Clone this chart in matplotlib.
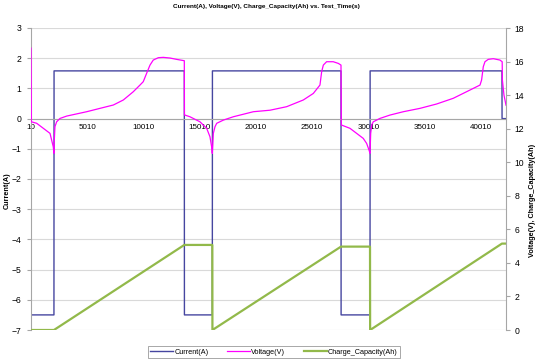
import matplotlib.pyplot as plt

plt.rcParams['font.family'] = ['Liberation Sans', 'DejaVu Sans']

# Current(A) step profile vs test time (s)
cur_t = [10, 20, 2050, 2060, 13640, 13650, 16130, 16140, 27570, 27580,
         30150, 30160, 41880, 41890, 42240]
cur_a = [0, -6.5, -6.5, 1.58, 1.58, -6.5, -6.5, 1.58, 1.58, -6.5,
         -6.5, 1.58, 1.58, 0, 0]

# Voltage(V) vs test time (s)
volt_t = [10, 40, 517, 1700, 1990, 2050, 2080, 2140, 2290, 2590, 3180, 4960,
          6140, 7330, 8220, 9100, 9700, 9990, 10290, 10590, 10880, 11330,
          11770, 12370, 12960, 13640, 13650, 13700, 14140, 15030, 15630,
          15920, 16070, 16130, 16220, 16370, 16520, 17110, 18000, 19780,
          21260, 22740, 24220, 25110, 25700, 25850, 26000, 26290, 26880,
          27330, 27570, 27600, 28370, 28960, 29550, 29850, 30060, 30150,
          30210, 30300, 30440, 31030, 31920, 33110, 34590, 36070, 37550,
          39030, 39930, 40070, 40220, 40370, 40660, 41110, 41700, 41900,
          41920, 42060, 42240]
volt_v = [16.8, 12.41, 12.32, 11.72, 10.92, 10.53, 11.3, 12.12, 12.41, 12.61,
          12.75, 13.01, 13.21, 13.41, 13.71, 14.2, 14.6, 14.8, 15.3, 15.79,
          16.09, 16.23, 16.25, 16.21, 16.13, 16.05, 12.81, 12.81, 12.71,
          12.41, 12.02, 11.52, 10.92, 10.53, 11.72, 12.12, 12.32, 12.51,
          12.71, 13.01, 13.1, 13.31, 13.71, 14.1, 14.6, 15.39, 15.79, 15.99,
          15.99, 15.89, 15.79, 12.22, 12.02, 11.72, 11.42, 11.12, 10.73,
          10.53, 11.72, 12.22, 12.41, 12.61, 12.81, 13.01, 13.21, 13.47,
          13.81, 14.3, 14.6, 14.9, 15.69, 15.99, 16.13, 16.17, 16.09, 15.99,
          14.9, 14.0, 13.4]

# Charge_Capacity(Ah) vs test time (s)
cap_t = [10, 2050, 13640, 16130, 16140, 27570, 30150, 30160, 41880, 42240]
cap_ah = [0, 0, 5.07, 5.07, 0, 4.97, 4.97, 0, 5.15, 5.15]

xtick_vals = [10, 5010, 10010, 15010, 20010, 25010, 30010, 35010, 40010]
xtick_labels = ["10", "5010", "10010", "15010", "20010", "25010", "30010",
                "35010", "40010"]

blue = '#4646A0'
magenta = '#FF00FF'
green = '#92B94A'
gray = '#A6A6A6'

fig = plt.figure(figsize=(5.4, 3.59), dpi=100)
ax1 = fig.add_axes([31 / 540, 1 - 330 / 359, 475 / 540, 302 / 359])
ax2 = ax1.twinx()

l1, = ax1.plot(cur_t, cur_a, color=blue, lw=1.0, label='Current(A)')
l2, = ax2.plot(volt_t, volt_v, color=magenta, lw=0.9, label='Voltage(V)')
l3, = ax2.plot(cap_t, cap_ah, color=green, lw=1.6, label='Charge_Capacity(Ah)')

ax1.set_xlim(10, 42240)
ax1.set_ylim(-7, 3)
ax1.set_yticks(range(-7, 4))
ax2.set_ylim(0, 18)
ax2.set_yticks(range(0, 19, 2))

ax1.set_xticks(xtick_vals)
ax1.set_xticklabels(xtick_labels)
ax1.spines['bottom'].set_position(('data', 0))
ax1.spines['bottom'].set_color(gray)
ax1.tick_params(axis='x', length=0, pad=4, labelsize=5.8, colors='black')
ax1.tick_params(axis='y', length=3, pad=4, labelsize=6.2, color=gray)
ax2.tick_params(axis='y', length=3, pad=3, labelsize=6.2, color=gray)

ax1.grid(axis='y', color='#D9D9D9', lw=0.8)
ax1.set_axisbelow(True)

for s in ['top', 'right']:
    ax1.spines[s].set_visible(False)
for s in ['top', 'bottom', 'left']:
    ax2.spines[s].set_visible(False)
ax1.spines['left'].set_color(gray)
ax2.spines['right'].set_color(gray)

fig.text(266 / 540, 1 - 6.5 / 359, 'Current(A), Voltage(V), Charge_Capacity(Ah) vs. Test_Time(s)',
         ha='center', va='center', fontsize=4.6, fontweight='bold')
fig.text(7 / 540, 1 - 191 / 359, 'Current(A)', rotation=90, ha='center', va='center',
         fontsize=5.2, fontweight='bold')
fig.text(533 / 540, 1 - 200 / 359, 'Voltage(V), Charge_Capacity(Ah)', rotation=90,
         ha='center', va='center', fontsize=5.2, fontweight='bold')

leg = fig.legend(handles=[l1, l2, l3], loc='center', ncol=3,
                 bbox_to_anchor=(274 / 540, 1 - 352 / 359), fontsize=5.2,
                 frameon=True, fancybox=False, edgecolor='#808080',
                 handlelength=3.2, handletextpad=0.2, columnspacing=2.5,
                 borderpad=0.3)
leg.get_frame().set_linewidth(0.6)

fig.savefig('out.png', dpi=100)
